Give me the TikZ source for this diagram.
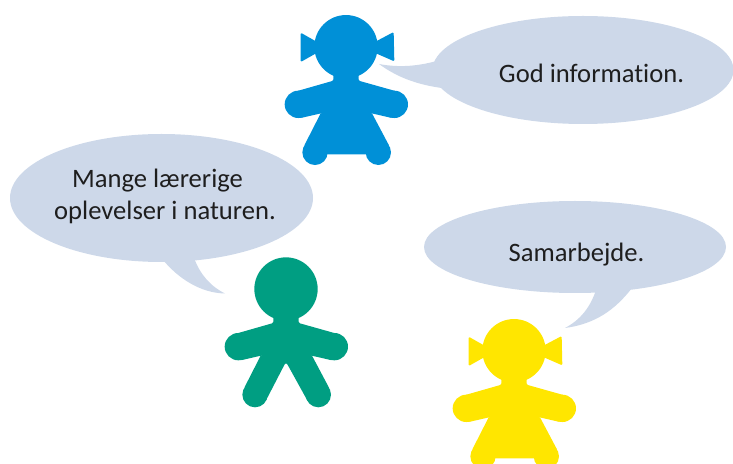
\documentclass[tikz,border=0pt]{standalone}
\usepackage{fontspec}
\setmainfont{Carlito}[Ligatures=NoCommon]
\definecolor{bubblecol}{HTML}{CDD8E9}
\definecolor{kidblue}{HTML}{0090D7}
\definecolor{kidgreen}{HTML}{009E82}
\definecolor{kidyellow}{HTML}{FFE600}
\definecolor{txtcol}{HTML}{1E1E1E}
\tikzset{
  bubble/.style={fill=bubblecol,draw=none},
  saying/.style={anchor=base,text=txtcol,font=\fontsize{26.7}{30}\selectfont,inner sep=0pt},
  kid/.style={x=0.3333bp,y=-0.3333bp},
  softer/.style={rounded corners=1.2pt},
}
% upper part shared by both figures, in units of 1/3 px around the head centre
\newcommand{\kidtop}{%
  \fill (0,0) circle (95);
  \fill[softer] (-38,70) -- (-38,102) -- (-157,136) -- (-136,214) -- (-75,200)
     -- (77,200) -- (138,214) -- (159,136) -- (38,102) -- (38,70) -- cycle;
  \fill (-143,173) circle (41);
  \fill (145,173) circle (41);
}
\newcommand{\kidlegs}{%
  \fill[softer] (-75,198) -- (-126,298) -- (-62,338) -- (-3,224) -- (0,222) -- (3,224) -- (66,338) -- (130,298) -- (77,198) -- cycle;
  \fill (-93,317) circle (38);
  \fill (97,317) circle (38);
}
\newcommand{\kidskirt}{%
  \fill[softer] (-75,198) -- (-126,298) -- (-93,323) -- (97,323) -- (130,298) -- (77,198) -- cycle;
  \fill (-93,317) circle (38);
  \fill (97,317) circle (38);
  \fill[softer] (-90,-16) -- (-136,-42) -- (-136,46) -- (-90,20) -- cycle;
  \fill[softer] (90,-16) -- (143,-44) -- (145,44) -- (90,20) -- cycle;
}
\begin{document}
\begin{tikzpicture}[x=1bp,y=-1bp]
\useasboundingbox (0,0) rectangle (733,464);
\clip (0,0) rectangle (733,464);
% bubbles
\fill[bubble] (583,70) ellipse [x radius=150.5,y radius=54];
\fill[bubble] (379,64) .. controls (400,68) and (420,66) .. (440,60) -- (450,89)
   .. controls (420,86) and (398,78) .. cycle;
\fill[bubble] (161.5,198) ellipse [x radius=151.5,y radius=64];
\fill[bubble] (163,260) .. controls (178,278) and (200,293) .. (225,293.5)
   .. controls (210,286) and (200,274) .. (194,258) -- cycle;
\fill[bubble] (575,247) ellipse [x radius=151,y radius=46];
\fill[bubble] (596,290) .. controls (590,308) and (580,320) .. (565,328)
   .. controls (595,324) and (615,310) .. (632,288) -- cycle;
% figures
\begin{scope}[shift={(346,46.7)},kid,fill=kidblue]
  \kidtop\kidskirt
\end{scope}
\begin{scope}[shift={(286,289)},kid,fill=kidgreen]
  \kidtop\kidlegs
\end{scope}
\begin{scope}[shift={(514,350.7)},kid,fill=kidyellow]
  \kidtop\kidskirt
\end{scope}
% texts
\node[saying] (god) at (591.5,83) {God information.};
\node[saying] (mange) at (157.5,188) {Mange lærerige};
\node[saying] (oplev) at (165,220) {oplevelser i naturen.};
\node[saying] (sam) at (576.5,262) {Samarbejde.};
\end{tikzpicture}
\end{document}
